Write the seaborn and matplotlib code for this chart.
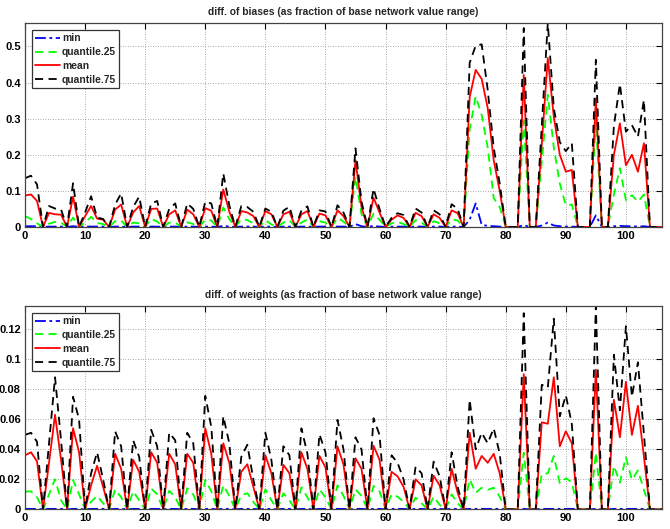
import numpy as np
import matplotlib
matplotlib.use("Agg")
import matplotlib.pyplot as plt
import seaborn as sns

# x positions (parameter group index)
idx = np.arange(107)

# ---------------------------------------------------------------------
# diff. of biases
bias_min = [0.002, 0.002, 0.002, 0, 0.001, 0.001, 0.001, 0, 0.002, 0,
            0.001, 0.001, 0.001, 0.001, 0, 0.001, 0.001, 0, 0.001, 0.001,
            0, 0.001, 0.001, 0, 0.001, 0.001, 0, 0.001, 0.001, 0,
            0.001, 0.001, 0, 0.003, 0.001, 0, 0.001, 0.001, 0.001, 0,
            0.001, 0.001, 0, 0.001, 0.001, 0, 0.001, 0.001, 0, 0.001,
            0.001, 0, 0.001, 0.001, 0, 0.008, 0.002, 0, 0.003, 0.001,
            0, 0.001, 0.001, 0.001, 0, 0.001, 0.001, 0, 0.001, 0.001,
            0, 0.001, 0.001, 0, 0.02, 0.065, 0.006, 0.003, 0.002, 0.001,
            0, 0, 0, 0.005, 0, 0, 0.004, 0.012, 0.004, 0.002,
            0.001, 0.001, 0, 0, 0, 0.032, 0, 0, 0.002, 0.003,
            0.002, 0.002, 0.001, 0.002, 0, 0, 0]
bias_q25 = [0.03, 0.022, 0.01, 0, 0.009, 0.014, 0.012, 0, 0.026, 0,
            0.012, 0.028, 0.011, 0.008, 0, 0.016, 0.018, 0, 0.012, 0.01,
            0, 0.022, 0.015, 0, 0.012, 0.012, 0, 0.013, 0.008, 0,
            0.02, 0.018, 0, 0.054, 0.022, 0, 0.022, 0.019, 0.01, 0,
            0.019, 0.007, 0, 0.012, 0.019, 0, 0.012, 0.021, 0, 0.016,
            0.012, 0, 0.025, 0.015, 0, 0.139, 0.035, 0, 0.037, 0.02,
            0, 0.01, 0.014, 0.008, 0, 0.019, 0.012, 0, 0.016, 0.01,
            0, 0.021, 0.018, 0, 0.27, 0.362, 0.31, 0.22, 0.08, 0.055,
            0, 0, 0, 0.294, 0, 0, 0.18, 0.366, 0.22, 0.12,
            0.06, 0.062, 0, 0, 0, 0.29, 0, 0, 0.09, 0.163,
            0.074, 0.088, 0.07, 0.09, 0, 0, 0]
bias_mean = [0.087, 0.09, 0.072, 0, 0.039, 0.035, 0.034, 0, 0.084, 0,
             0.03, 0.058, 0.023, 0.02, 0, 0.048, 0.062, 0, 0.04, 0.058,
             0, 0.05, 0.051, 0, 0.035, 0.046, 0, 0.048, 0.035, 0,
             0.052, 0.045, 0, 0.104, 0.042, 0, 0.044, 0.04, 0.03, 0,
             0.044, 0.035, 0, 0.035, 0.042, 0, 0.035, 0.044, 0, 0.037,
             0.032, 0, 0.046, 0.03, 0, 0.185, 0.055, 0, 0.081, 0.04,
             0, 0.02, 0.032, 0.025, 0, 0.039, 0.03, 0, 0.035, 0.025,
             0, 0.046, 0.038, 0, 0.36, 0.435, 0.41, 0.33, 0.185, 0.1,
             0, 0, 0, 0.421, 0, 0, 0.23, 0.468, 0.305, 0.2,
             0.153, 0.158, 0, 0, 0, 0.356, 0, 0, 0.2, 0.287,
             0.171, 0.2, 0.153, 0.232, 0, 0, 0]
bias_q75 = [0.135, 0.142, 0.118, 0, 0.058, 0.051, 0.048, 0, 0.121, 0,
            0.04, 0.085, 0.026, 0.022, 0, 0.062, 0.093, 0, 0.055, 0.084,
            0, 0.065, 0.072, 0, 0.05, 0.065, 0, 0.065, 0.05, 0,
            0.07, 0.065, 0, 0.148, 0.06, 0, 0.058, 0.055, 0.042, 0,
            0.051, 0.042, 0, 0.045, 0.056, 0, 0.045, 0.057, 0, 0.046,
            0.043, 0, 0.06, 0.04, 0, 0.218, 0.07, 0, 0.106, 0.05,
            0, 0.025, 0.038, 0.033, 0, 0.051, 0.04, 0, 0.046, 0.035,
            0, 0.063, 0.05, 0, 0.455, 0.502, 0.506, 0.38, 0.22, 0.12,
            0, 0, 0, 0.551, 0, 0, 0.28, 0.565, 0.33, 0.235,
            0.21, 0.232, 0, 0, 0, 0.463, 0, 0, 0.28, 0.396,
            0.264, 0.282, 0.25, 0.352, 0, 0, 0]

# ---------------------------------------------------------------------
# diff. of weights
weight_q25 = [0.0118, 0.012, 0.008, 0, 0.01, 0.02, 0.006, 0, 0.0196, 0.01,
              0, 0.005, 0.009, 0.004, 0, 0.0133, 0.008, 0, 0.012, 0.006,
              0, 0.0138, 0.01, 0, 0.0124, 0.008, 0, 0.014, 0.01, 0,
              0.0196, 0.012, 0, 0.016, 0.009, 0, 0.0096, 0.0107, 0.005, 0,
              0.0133, 0.006, 0, 0.0107, 0.006, 0, 0.0147, 0.008, 0, 0.0133,
              0.008, 0, 0.016, 0.009, 0, 0.0133, 0.009, 0, 0.0156, 0.012,
              0, 0.01, 0.0084, 0.005, 0, 0.0078, 0.004, 0, 0.0084, 0.003,
              0, 0.01, 0.004, 0, 0.02, 0.011, 0.0144, 0.013, 0.0144, 0.0084,
              0, 0, 0, 0.0378, 0, 0, 0.0236, 0.024, 0.0356, 0.0173,
              0.0207, 0.018, 0, 0, 0, 0.0378, 0, 0, 0.029, 0.0178,
              0.0347, 0.0196, 0.026, 0.013, 0, 0, 0]
weight_mean = [0.036, 0.038, 0.032, 0, 0.031, 0.063, 0.033, 0, 0.054, 0.038,
               0, 0.016, 0.029, 0.015, 0, 0.037, 0.027, 0, 0.033, 0.025,
               0, 0.038, 0.031, 0, 0.037, 0.03, 0, 0.037, 0.031, 0,
               0.054, 0.037, 0, 0.044, 0.031, 0, 0.025, 0.03, 0.015, 0,
               0.036, 0.024, 0, 0.0296, 0.024, 0, 0.038, 0.027, 0, 0.0356,
               0.028, 0, 0.042, 0.03, 0, 0.034, 0.027, 0, 0.0424, 0.033,
               0, 0.025, 0.022, 0.015, 0, 0.02, 0.016, 0, 0.0224, 0.016,
               0, 0.027, 0.011, 0, 0.051, 0.027, 0.0356, 0.031, 0.037, 0.024,
               0, 0, 0, 0.09, 0, 0, 0.058, 0.057, 0.088, 0.042,
               0.052, 0.044, 0, 0, 0, 0.093, 0, 0, 0.073, 0.048,
               0.085, 0.0496, 0.069, 0.035, 0, 0, 0]
weight_q75 = [0.0496, 0.051, 0.045, 0, 0.044, 0.088, 0.046, 0, 0.075, 0.06,
              0, 0.024, 0.038, 0.02, 0, 0.052, 0.042, 0, 0.046, 0.035,
              0, 0.053, 0.042, 0, 0.051, 0.046, 0, 0.051, 0.044, 0,
              0.0756, 0.055, 0, 0.062, 0.044, 0, 0.035, 0.043, 0.02, 0,
              0.051, 0.033, 0, 0.042, 0.036, 0, 0.054, 0.037, 0, 0.05,
              0.038, 0, 0.0596, 0.04, 0, 0.048, 0.04, 0, 0.0607, 0.0496,
              0, 0.036, 0.031, 0.02, 0, 0.0284, 0.024, 0, 0.0318, 0.022,
              0, 0.038, 0.015, 0, 0.073, 0.04, 0.051, 0.044, 0.054, 0.037,
              0, 0, 0, 0.1307, 0, 0, 0.083, 0.081, 0.127, 0.062,
              0.076, 0.057, 0, 0, 0, 0.1355, 0, 0, 0.103, 0.066,
              0.122, 0.075, 0.098, 0.05, 0, 0, 0]
# min of weight differences sits on the axis everywhere
weight_min = [0.0003 if q > 0 else 0 for q in weight_q75]

labels = ['min', 'quantile.25', 'mean', 'quantile.75']
colors = ['#0000ff', '#00ff00', '#ff0000', '#000000']
styles = [(0, (6, 2, 1.5, 2)), (0, (4.5, 3)), '-', (0, (4.5, 3))]

sns.set_style("white")
plt.rcParams['font.family'] = ['Liberation Sans', 'DejaVu Sans']
plt.rcParams['font.weight'] = 'bold'
plt.rcParams['font.size'] = 8


def draw(ax, series, title, ymax, yticks):
    for name, vals, col, ls in zip(labels, series, colors, styles):
        sns.lineplot(x=idx, y=vals, ax=ax, color=col, linestyle=ls,
                     linewidth=1.3, label=name)
    ax.set_xlim(0, 106)
    ax.set_ylim(0, ymax)
    ax.set_xticks(range(0, 101, 10))
    ax.set_yticks(yticks)
    ax.set_yticklabels(['0' if t == 0 else f'{t:g}' for t in yticks])
    ax.set_xlabel('')
    ax.set_ylabel('')
    ax.set_title(title, fontsize=7.4, fontweight='bold', pad=6)
    ax.grid(True, linestyle=(0, (1, 2)), color='#8c8c8c', linewidth=0.6)
    ax.tick_params(direction='in', length=4, top=True, right=True,
                   labelsize=8, pad=3, colors='#000000')
    for sp in ax.spines.values():
        sp.set_color('#444444')
        sp.set_linewidth(0.9)
    leg = ax.legend(loc='upper left', bbox_to_anchor=(0.011, 0.965),
                    frameon=True, fancybox=False, framealpha=1,
                    edgecolor='#333333', fontsize=7.4, handlelength=2.4,
                    handletextpad=0.2, labelspacing=0.38, borderpad=0.3,
                    borderaxespad=0)
    leg.get_frame().set_linewidth(0.9)


fig = plt.figure(figsize=(6.7, 5.29), dpi=100)
ax1 = fig.add_axes([0.0373, 0.571, 0.9507, 0.3855])
ax2 = fig.add_axes([0.0373, 0.0372, 0.9507, 0.3844])

draw(ax1, [bias_min, bias_q25, bias_mean, bias_q75],
     'diff. of biases (as fraction of base network value range)',
     0.565, [0, 0.1, 0.2, 0.3, 0.4, 0.5])
draw(ax2, [weight_min, weight_q25, weight_mean, weight_q75],
     'diff. of weights (as fraction of base network value range)',
     0.1355, [0, 0.02, 0.04, 0.06, 0.08, 0.1, 0.12])

fig.savefig('out.png', dpi=100, facecolor='white')
